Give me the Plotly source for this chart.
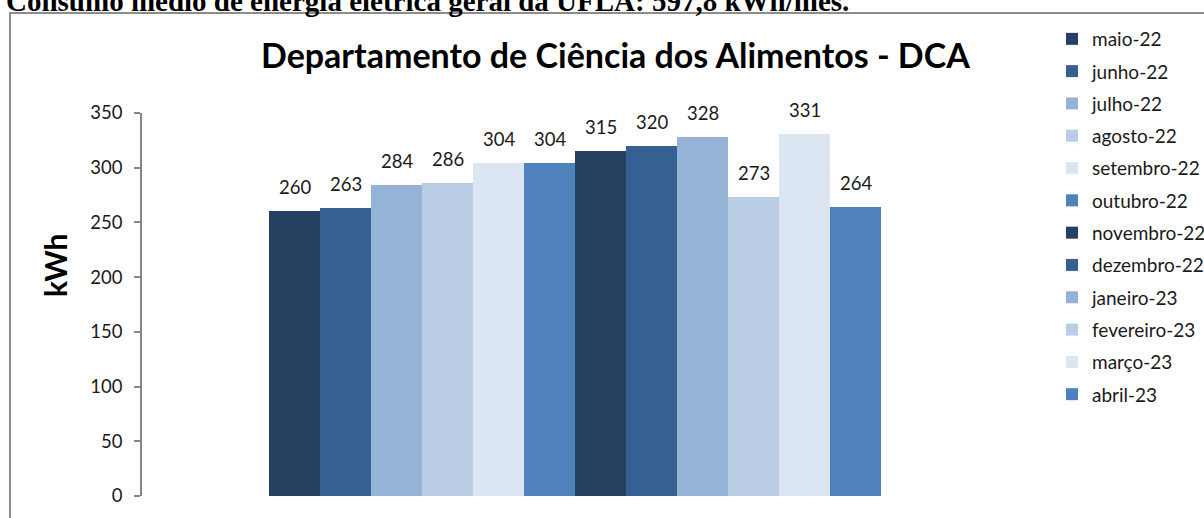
import plotly.graph_objects as go

months = ["maio-22", "junho-22", "julho-22", "agosto-22", "setembro-22", "outubro-22",
          "novembro-22", "dezembro-22", "janeiro-23", "fevereiro-23", "março-23", "abril-23"]
values = [260, 263, 284, 286, 304, 304, 315, 320, 328, 273, 331, 264]
colors = ["#254061", "#376092", "#95B3D7", "#B9CDE5", "#DCE6F2", "#4F81BD",
          "#254061", "#376092", "#95B3D7", "#B9CDE5", "#DCE6F2", "#4F81BD"]
y_ticks = [0, 50, 100, 150, 200, 250, 300, 350]

W, H = 1204, 518
L, R, T, B = 142, 1008, 113, 496  # plot area in pixels
FONT = "Lato, 'Open Sans', sans-serif"

def px(x):
    return (x - L) / (R - L)

def py(y):
    return (B - y) / (B - T)

fig = go.Figure()
for i, (m, v, c) in enumerate(zip(months, values, colors)):
    fig.add_trace(go.Bar(
        x=[i], y=[v], name=m, width=1, legendgroup=m,
        marker=dict(color=c, line=dict(width=0)),
        hoverinfo="name+y",
    ))
    fig.add_annotation(x=i, y=v, xref="x", yref="y", text=str(v), showarrow=False,
                       yanchor="middle", yshift=24,
                       font=dict(family=FONT, size=18.5, color="#1a1a1a"))

unit_px = 51.0
pad = (269 - L) / unit_px
fig.update_xaxes(range=[-0.5 - pad, 11.5 + (R - 881) / unit_px], showticklabels=False,
                 showgrid=False, zeroline=False, showline=False, ticks="")
fig.update_yaxes(range=[0, 350], tickvals=y_ticks, showgrid=False, zeroline=False,
                 showline=True, linecolor="#868686", linewidth=1.5,
                 ticks="outside", ticklen=6, tickcolor="#868686", tickwidth=1.5,
                 ticklabelstandoff=8,
                 tickfont=dict(family=FONT, size=18.5, color="#1a1a1a"))

# header text above chart (cropped at top, as in the source)
fig.add_annotation(xref="paper", yref="paper", x=px(4), y=py(1.5), xanchor="left", yanchor="middle",
                   text="<b>Consumo médio de energia elétrica geral da UFLA: 597,8 kWh/mês.</b>",
                   showarrow=False,
                   font=dict(family="'Liberation Serif', 'Times New Roman', serif", size=29, color="#000000"))
# chart title
fig.add_annotation(xref="paper", yref="paper", x=px(615), y=py(54.5), xanchor="center", yanchor="middle",
                   text="<b>Departamento de Ciência dos Alimentos - DCA</b>", showarrow=False,
                   font=dict(family=FONT, size=34, color="#000000"))
# axis title
fig.add_annotation(xref="paper", yref="paper", x=px(55), y=py(265), xanchor="center", yanchor="middle",
                   text="<b>kWh</b>", textangle=-90, showarrow=False,
                   font=dict(family=FONT, size=30, color="#000000"))

# chart border
fig.add_shape(type="rect", xref="paper", yref="paper", x0=px(10), x1=px(1300), y0=py(600), y1=py(13),
              line=dict(color="#8c8c8c", width=2), fillcolor="rgba(0,0,0,0)", layer="below")

fig.update_layout(
    width=W, height=H,
    margin=dict(l=L, r=W - R, t=T, b=H - B, pad=0, autoexpand=False),
    paper_bgcolor="white", plot_bgcolor="white",
    barmode="overlay", bargap=0,
    showlegend=True,
    legend=dict(x=px(1052), y=py(20), xanchor="left", yanchor="top",
                font=dict(family=FONT, size=19, color="#1a1a1a"),
                traceorder="grouped", tracegroupgap=4.6, bgcolor="rgba(0,0,0,0)",
                maxheight=510, itemclick=False),
)

fig.write_html("out.html", config={"displayModeBar": False},
               post_script="document.body.style.margin='0';")
